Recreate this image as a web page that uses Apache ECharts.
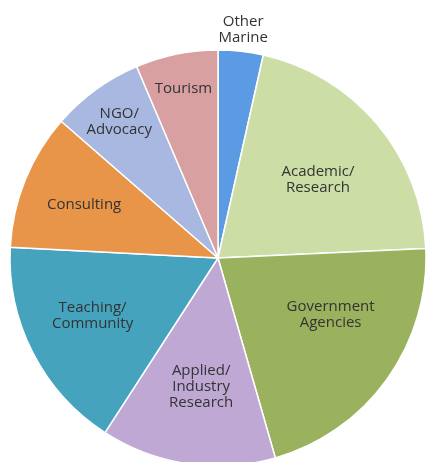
<!DOCTYPE html>
<html>
<head>
<meta charset="utf-8">
<style>html,body{margin:0;padding:0;background:#fff;}#c{width:426px;height:462px;}</style>
<script src="https://cdn.jsdelivr.net/npm/echarts@6/dist/echarts.min.js"></script>
</head>
<body>
<div id="c"></div>
<script>
const categories = ["Other\nMarine", "Academic/\nResearch", "Government\nAgencies", "Applied/\nIndustry\nResearch", "Teaching/\nCommunity", "Consulting", "NGO/\nAdvocacy", "Tourism"];
const shares = [3.5, 20.8, 21.3, 13.6, 16.7, 10.6, 7.2, 6.4];
const colors = ["#5B9BE3", "#CDDDA6", "#9AB15E", "#BFA8D4", "#45A3BE", "#E8954A", "#A8B8E0", "#D9A0A2"];
// label placement (layout config): fraction of radius and angular shift (deg) from slice mid-angle
const labelRadiusFrac = [1.106, 0.61, 0.606, 0.625, 0.663, 0.692, 0.808, 0.832];
const labelAngleShift = [0, 2, -9, -1, 2.5, -0.5, 0, 0];

const CX = 218, CY = 258, R = 208;
const chart = echarts.init(document.getElementById('c'), null, {renderer: 'canvas'});
chart.setOption({
  animation: false,
  series: [{
    type: 'pie',
    center: [CX, CY],
    radius: [0, R],
    startAngle: 90,
    clockwise: true,
    avoidLabelOverlap: false,
    itemStyle: {borderColor: '#ffffff', borderWidth: 1.5},
    label: {
      show: true,
      position: 'inside',
      color: '#333333',
      fontFamily: 'Open Sans',
      fontSize: 15,
      lineHeight: 16,
      align: 'center',
      formatter: p => p.name
    },
    labelLine: {show: false},
    emphasis: {disabled: true},
    labelLayout: function (params) {
      const i = params.dataIndex;
      const lay = chart.getModel().getSeriesByIndex(0).getData().getItemLayout(i);
      const mid = (lay.startAngle + lay.endAngle) / 2 + labelAngleShift[i] * Math.PI / 180;
      const rr = lay.r * labelRadiusFrac[i];
      return {x: lay.cx + rr * Math.cos(mid), y: lay.cy + rr * Math.sin(mid), align: 'center', verticalAlign: 'middle'};
    },
    data: categories.map((n, i) => ({name: n, value: shares[i], itemStyle: {color: colors[i]}}))
  }]
});
</script>
</body>
</html>
